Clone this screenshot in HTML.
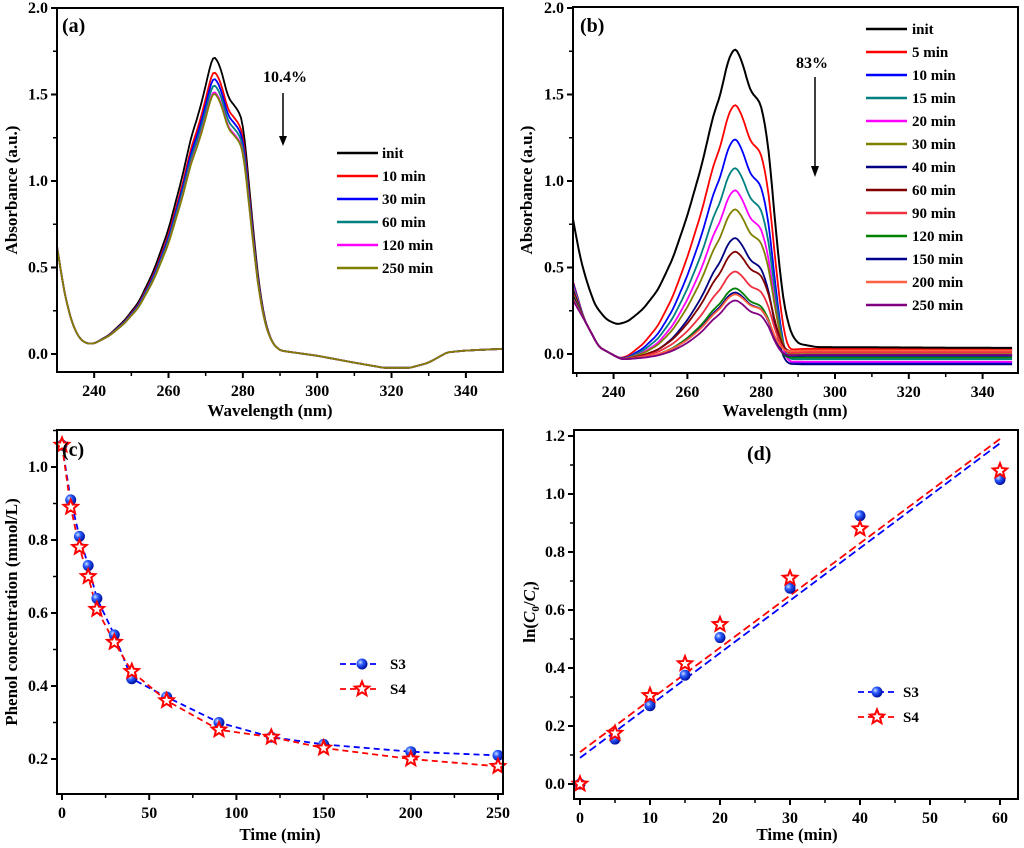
<!DOCTYPE html><html><head><meta charset="utf-8"><style>
body{margin:0;background:#fff}svg{display:block}
text{font-family:"Liberation Serif",serif;font-weight:bold;fill:#000}
</style></head><body>
<svg id="s" width="1024" height="848" xmlns="http://www.w3.org/2000/svg">
<defs><radialGradient id="bg" cx="35%" cy="35%" r="65%"><stop offset="0" stop-color="#cfe0ff"/><stop offset="0.4" stop-color="#2a5cff"/><stop offset="1" stop-color="#0010a0"/></radialGradient></defs>
<g id="g"></g>
<text x="62" y="32" font-size="20">(a)</text>
<text x="580" y="32" font-size="20">(b)</text>
<text x="62" y="456" font-size="20">(c)</text>
<text x="747" y="460" font-size="20">(d)</text>
<text x="263" y="82" font-size="16">10.4%</text>
<text x="796" y="68" font-size="16">83%</text>
<text x="270" y="416" font-size="17" text-anchor="middle">Wavelength (nm)</text>
<text x="785" y="416" font-size="17" text-anchor="middle">Wavelength (nm)</text>
<text x="280" y="840" font-size="17" text-anchor="middle">Time (min)</text>
<text x="797" y="840" font-size="17" text-anchor="middle">Time (min)</text>
<text transform="translate(17,190) rotate(-90)" font-size="17" text-anchor="middle">Absorbance (a.u.)</text>
<text transform="translate(532,190) rotate(-90)" font-size="17" text-anchor="middle">Absorbance (a.u.)</text>
<text transform="translate(17,612) rotate(-90)" font-size="17" text-anchor="middle">Phenol concentration (mmol/L)</text>
<text transform="translate(535,612) rotate(-90)" font-size="17" text-anchor="middle">ln(<tspan font-style="italic">C</tspan><tspan font-size="11" dy="4">0</tspan><tspan dy="-4">/</tspan><tspan font-style="italic">C</tspan><tspan font-size="11" font-style="italic" dy="4">t</tspan><tspan dy="-4">)</tspan></text>
</svg>
<script>
const g=document.getElementById('g');let h='';
function L(x1,y1,x2,y2,c,w,d){h+=`<line x1="${x1}" y1="${y1}" x2="${x2}" y2="${y2}" stroke="${c}" stroke-width="${w}"${d?` stroke-dasharray="${d}"`:''}/>`}
function T(x,y,s,sz,a){h+=`<text x="${x}" y="${y}" font-size="${sz||14}" text-anchor="${a||'middle'}">${s}</text>`}
function interp(p,w){if(w<=p[0][0])return p[0][1];for(let i=1;i<p.length;i++)if(w<=p[i][0]){const a=p[i-1],b=p[i];const t=(w-a[0])/(b[0]-a[0]);return a[1]+(b[1]-a[1])*t;}return p[p.length-1][1]}
function P(pts,c,w,d){h+=`<polyline fill="none" stroke="${c}" stroke-width="${w}" stroke-linejoin="round"${d?` stroke-dasharray="${d}"`:''} points="${pts.map(p=>p[0].toFixed(1)+','+p[1].toFixed(1)).join(' ')}"/>`}
function smooth(pts){let o=pts.slice();for(let k=0;k<3;k++){o=o.map((p,i)=>i==0||i==o.length-1?p:[p[0],(o[i-1][1]+2*p[1]+o[i+1][1])/4])}return o}
function axes(x0,y0,x1,y1,xt,yt,xm,ym){
 h+=`<rect x="${x0}" y="${y0}" width="${x1-x0}" height="${y1-y0}" fill="none" stroke="#000" stroke-width="2"/>`;
 xt.forEach(t=>{L(t[0],y1,t[0],y1+6,'#000',2);T(t[0],y1+24,t[1],16)});
 xm.filter(x=>x>x0&&x<x1).forEach(x=>L(x,y1,x,y1+4,'#000',1.5));
 yt.forEach(t=>{L(x0,t[0],x0-6,t[0],'#000',2);T(x0-9,t[0]+5,t[1],16,'end')});
 ym.filter(y=>y>y0&&y<y1).forEach(y=>L(x0,y,x0-4,y,'#000',1.5));
}
// panel a
{const X=w=>57+(w-230)*3.717,Y=v=>354-v*173;
 let xt=[],xm=[],yt=[],ym=[];for(let w=240;w<=340;w+=20){xt.push([X(w),w]);xm.push(X(w+10))}xm.push(X(230));
 for(let v=0;v<=2;v+=0.5){yt.push([Y(v),v.toFixed(1)]);ym.push(Y(v+0.25))}
 const ip=[[230,0.62],[232,0.35],[234,0.18],[236,0.09],[238,0.06],[240,0.06],[244,0.11],[248,0.19],[252,0.30],[256,0.48],[260,0.72],[264,1.05],[266,1.25],[268,1.38],[270,1.55],[272,1.74],[274,1.66],[276,1.48],[278,1.43],[280,1.36],[282,0.9],[284,0.45],[286,0.18],[288,0.06],[290,0.02],[300,-0.01],[310,-0.05],[318,-0.08],[325,-0.08],[330,-0.05],[335,0.01],[340,0.02],[350,0.03]];
 const pk=[1.74,1.65,1.61,1.57,1.53,1.52],col=['#000','#f00','#00f','#008080','#f0f','#808000'],lab=['init','10 min','30 min','60 min','120 min','250 min'];
 pk.forEach((p,i)=>{const f=p/1.74;let pts=[];for(let w=230;w<=350;w+=0.5){let v=interp(ip,w);if(w>238&&w<292){v=v-(1-f)*Math.max(0,v-0.06)}pts.push([X(w),Y(v)])}P(smooth(pts),col[i],1.8);
  const y=153+i*23;L(337,y,378,y,col[i],2.5);T(382,y+5,lab[i],15,'start')});
 axes(57,8,503,372,xt,yt,xm,ym);
 L(283,93,283,140,'#000',1.5);h+=`<polygon points="279,136 287,136 283,146" fill="#000"/>`;
}
// panel b
{const X=w=>573+(w-229)*3.69,Y=v=>354-v*173;
 let xt=[],xm=[],yt=[],ym=[];for(let w=240;w<=340;w+=20){xt.push([X(w),w]);xm.push(X(w+10))}xm.push(X(230));
 for(let v=0;v<=2;v+=0.5){yt.push([Y(v),v.toFixed(1)]);ym.push(Y(v+0.25))}
 const ip=[[229,0.78],[231,0.55],[233,0.40],[235,0.28],[238,0.20],[241,0.17],[244,0.19],[248,0.26],[252,0.37],[256,0.55],[260,0.80],[264,1.10],[267,1.38],[269,1.50],[271,1.70],[273,1.78],[275,1.68],[277,1.52],[280,1.45],[282,1.20],[284,0.70],[286,0.30],[288,0.12],[290,0.06],[295,0.04],[348,0.035]];
 const pk=[1.42,1.27,1.09,0.97,0.83,0.70,0.57,0.46,0.38,0.35,0.32,0.30],
 col=['#f00','#00f','#008080','#f0f','#808000','#000080','#800000','#f03040','#008000','#000090','#ff6040','#800080'],
 tail=[0.03,-0.05,-0.03,-0.045,0.0,-0.06,0.02,0.01,-0.02,-0.01,0.02,-0.005];
 const lab=['init','5 min','10 min','15 min','20 min','30 min','40 min','60 min','90 min','120 min','150 min','200 min','250 min'];
 pk.forEach((p,i)=>{let pts=[];for(let w=229;w<=348;w+=0.5){let g0=(w>241&&w<292)?Math.max(0,interp(ip,w)-0.17)/1.61:0;
   let b=w<242?interp([[229,0.42-i*0.01],[232,0.2],[236,0.04],[242,-0.03]],w):(w<292?-0.03+(tail[i]+0.03)*(w-242)/50:tail[i]);
   let sh=Math.pow(g0,1+i*0.04);pts.push([X(w),Y(b+(p+0.03)*sh)])}P(smooth(pts),col[i],1.8)});
 {let pts=[];for(let w=229;w<=348;w+=0.5)pts.push([X(w),Y(interp(ip,w))]);P(smooth(pts),'#000',2)}
 const lc=['#000'].concat(col);lab.forEach((s,i)=>{const y=29+i*23;L(866,y,907,y,lc[i],2.5);T(912,y+5,s,15,'start')});
 axes(573,7,1018,373,xt,yt,xm,ym);
 L(815,77,815,170,'#000',1.5);h+=`<polygon points="811,166 819,166 815,177" fill="#000"/>`;
}
function star(x,y){let p=[];for(let k=0;k<10;k++){const r=k%2?3.3:7.5,a=-Math.PI/2+k*Math.PI/5;p.push((x+r*Math.cos(a)).toFixed(1)+','+(y+r*Math.sin(a)).toFixed(1))}h+=`<polygon points="${p.join(' ')}" fill="#fff" stroke="#f00" stroke-width="2"/>`}
function ball(x,y){h+=`<circle cx="${x}" cy="${y}" r="5.5" fill="url(#bg)"/>`}
// panel c
{const X=t=>62+t*1.744,Y=v=>759-(v-0.2)*365;
 let xt=[],xm=[],yt=[],ym=[];for(let t=0;t<=250;t+=50){xt.push([X(t),t]);xm.push(X(t+25))}
 for(let v=0.2;v<=1.01;v+=0.2){yt.push([Y(v),v.toFixed(1)]);ym.push(Y(v+0.1))}
 const t=[0,5,10,15,20,30,40,60,90,120,150,200,250],a=[1.06,0.91,0.81,0.73,0.64,0.54,0.42,0.37,0.30,0.26,0.24,0.22,0.21],b=[1.06,0.89,0.78,0.70,0.61,0.52,0.44,0.36,0.28,0.26,0.23,0.20,0.18];
 P(t.map((x,i)=>[X(x),Y(a[i])]),'#00f',1.8,'6,4');P(t.map((x,i)=>[X(x),Y(b[i])]),'#f00',1.8,'6,4');
 t.forEach((x,i)=>ball(X(x),Y(a[i])));t.forEach((x,i)=>star(X(x),Y(b[i])));
 axes(57,430,503,794,xt,yt,xm,ym);
 L(340,664,380,664,'#00f',1.8,'6,4');ball(362,664);T(390,669,'S3',15,'start');
 L(340,689,380,689,'#f00',1.8,'6,4');star(362,689);T(390,694,'S4',15,'start');
}
// panel d
{const X=t=>580+t*7.0,Y=v=>784-v*290;
 let xt=[],xm=[],yt=[],ym=[];for(let t=0;t<=60;t+=10){xt.push([X(t),t]);xm.push(X(t+5))}
 for(let v=0;v<=1.21;v+=0.2){yt.push([Y(v),v.toFixed(1)]);ym.push(Y(v+0.1))}
 const t=[0,5,10,15,20,30,40,60],a=[0,0.155,0.27,0.375,0.505,0.675,0.925,1.05],b=[0,0.175,0.305,0.415,0.55,0.71,0.88,1.08];
 L(X(0),Y(0.09),X(60),Y(1.175),'#00f',1.8,'8,4');L(X(0),Y(0.11),X(60),Y(1.19),'#f00',1.8,'8,4');
 t.forEach((x,i)=>ball(X(x),Y(a[i])));t.forEach((x,i)=>star(X(x),Y(b[i])));
 axes(574,430,1018,799,xt,yt,xm,ym);
 L(858,692,896,692,'#00f',1.8,'6,4');ball(877,692);T(903,697,'S3',15,'start');
 L(858,717,896,717,'#f00',1.8,'6,4');star(877,717);T(903,722,'S4',15,'start');
}
g.innerHTML=h;
</script></body></html>
